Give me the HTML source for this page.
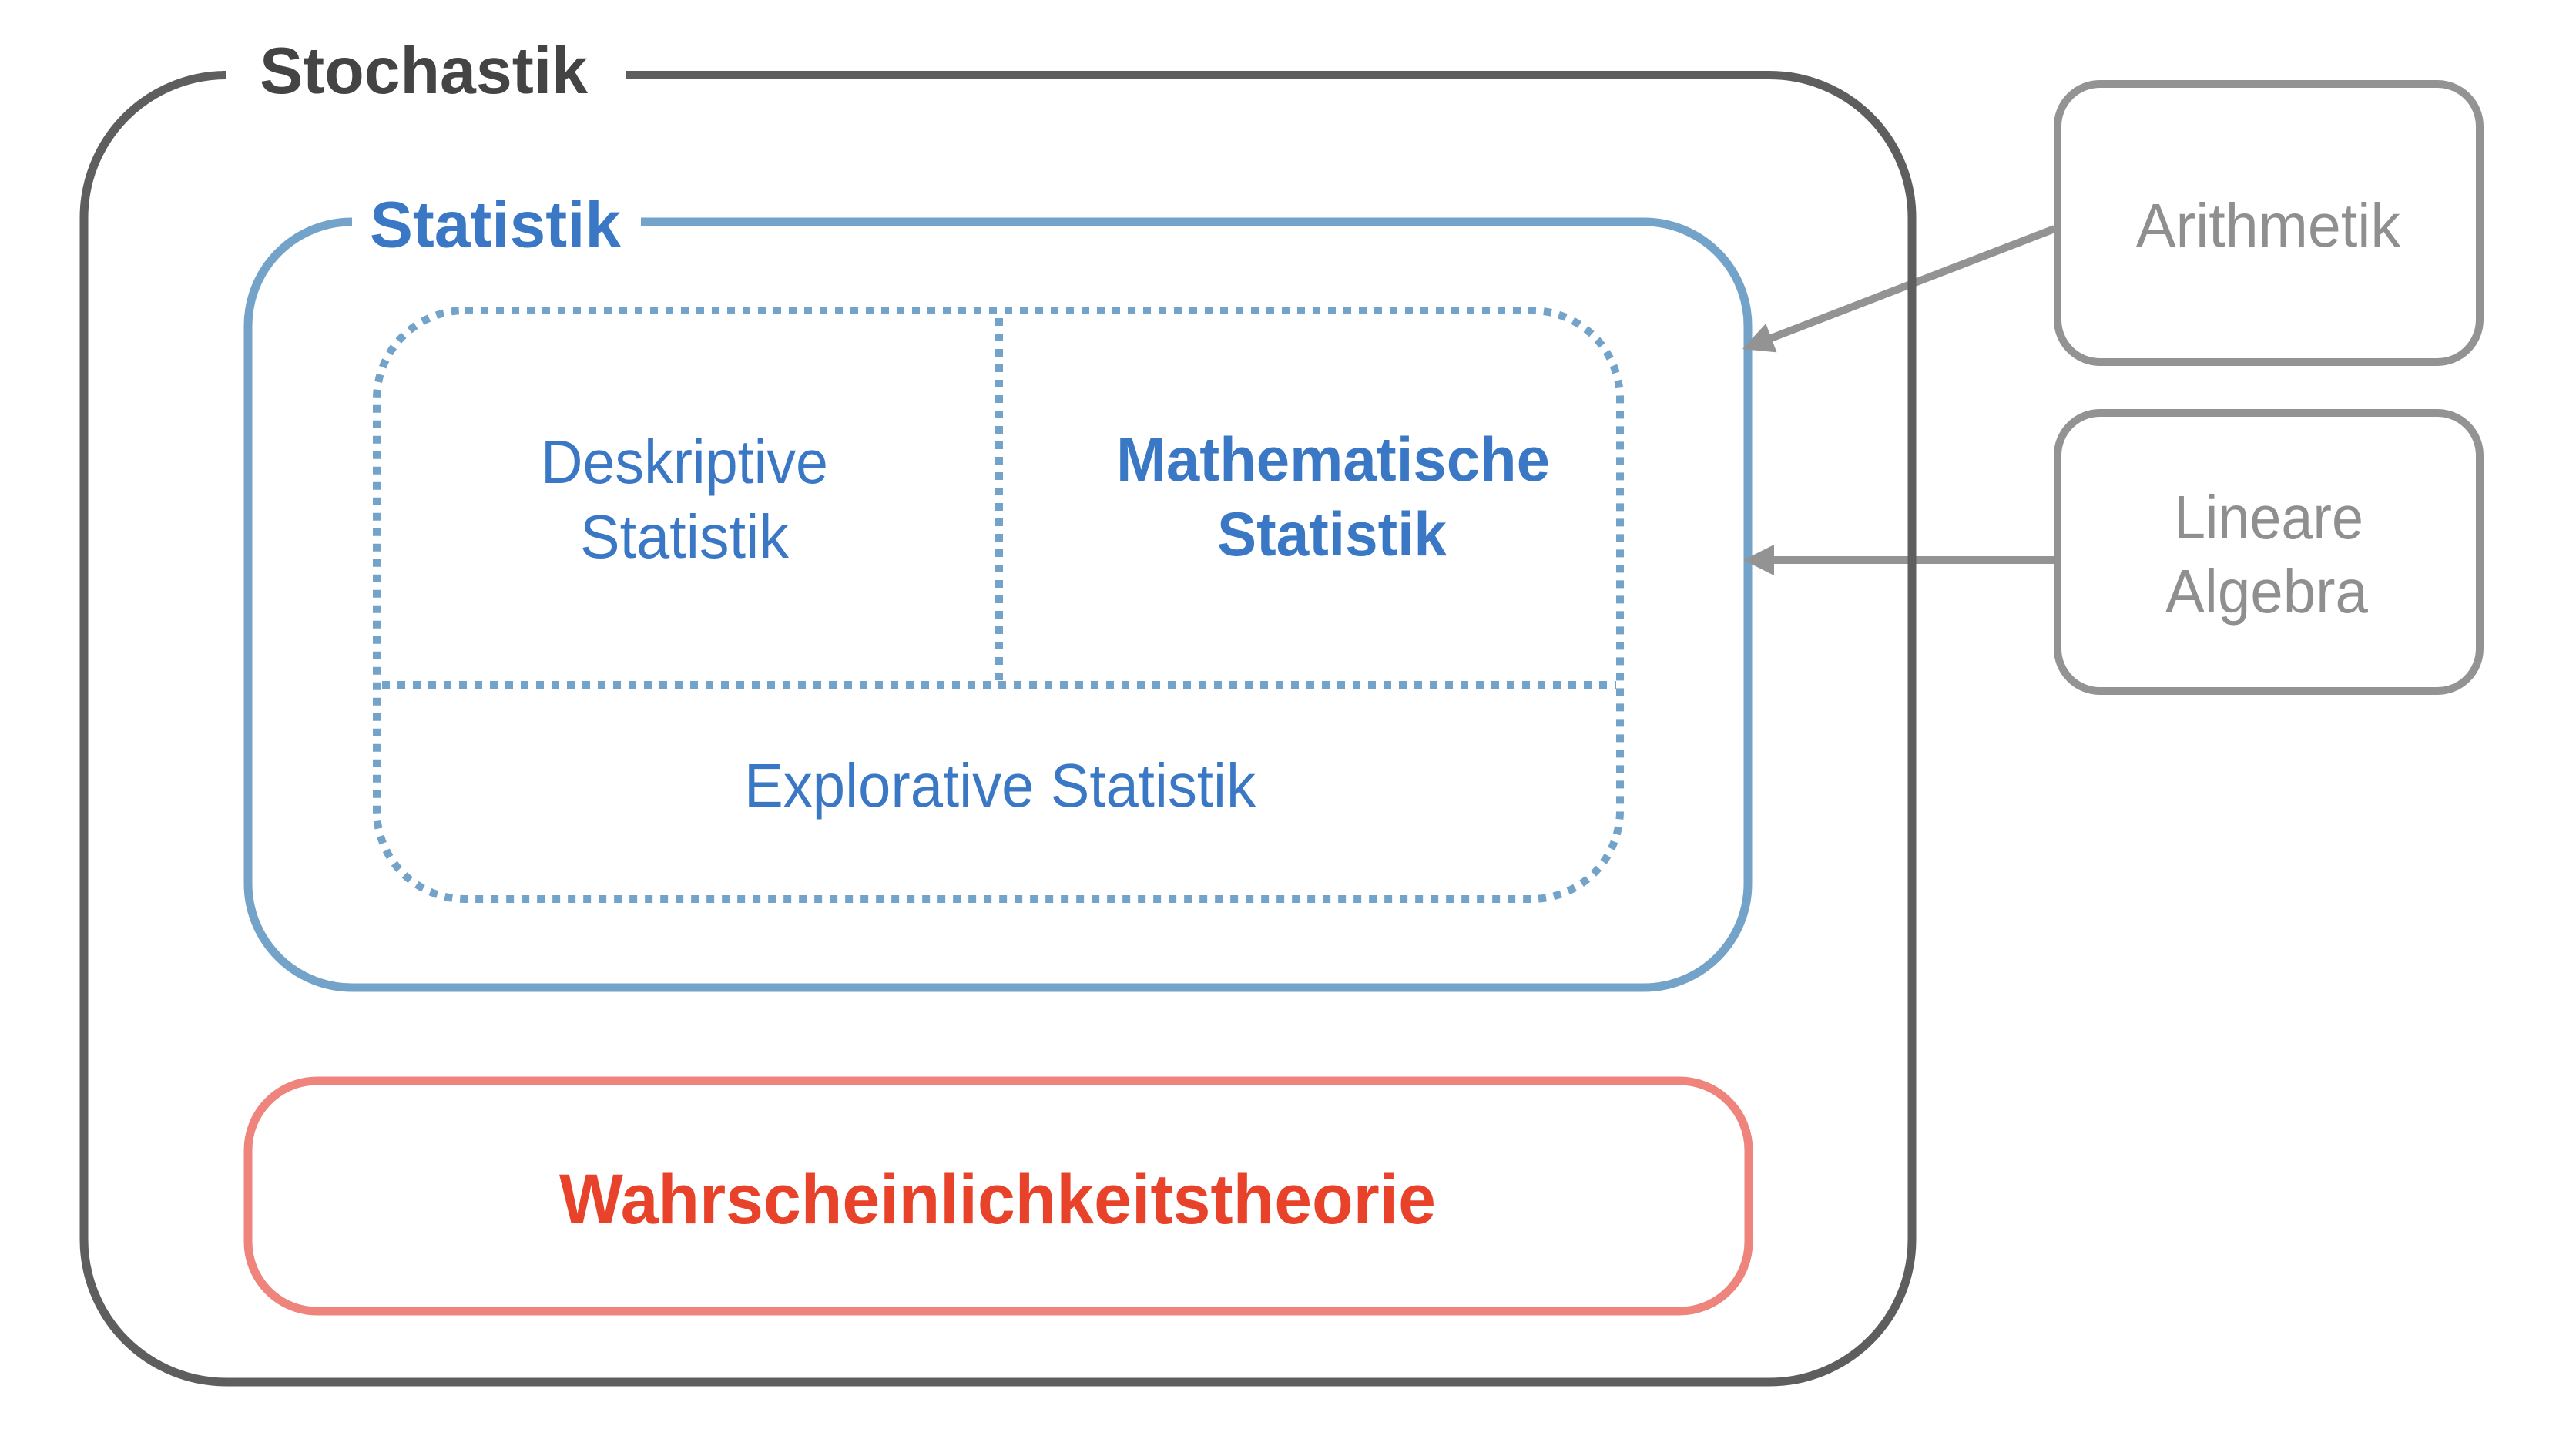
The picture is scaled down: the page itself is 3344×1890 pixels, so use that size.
<!DOCTYPE html>
<html>
<head>
<meta charset="utf-8">
<style>
  html, body { margin: 0; padding: 0; background: #ffffff; }
  body { width: 3344px; height: 1890px; overflow: hidden; }
  svg { display: block; }
  text { font-family: "Liberation Sans", "DejaVu Sans", sans-serif; }
</style>
</head>
<body>
<svg width="3344" height="1890" viewBox="0 0 3344 1890" xmlns="http://www.w3.org/2000/svg">
  <rect x="0" y="0" width="3344" height="1890" fill="#ffffff"/>

  <!-- Outer Stochastik box (with gap for title) -->
  <path d="M812,97.5 H2297 A185,185 0 0 1 2482,282.5 V1609 A185,185 0 0 1 2297,1794 H294 A185,185 0 0 1 109,1609 V282.5 A185,185 0 0 1 294,97.5 H288"
        fill="none" stroke="#5e5e5e" stroke-width="11" stroke-linecap="butt"/>
  <text x="337" y="121" font-size="85" font-weight="bold" fill="#444444" textLength="426" lengthAdjust="spacingAndGlyphs">Stochastik</text>

  <!-- Statistik box (blue) with gap -->
  <path d="M832,288 H2134 A135,135 0 0 1 2269,423 V1147 A135,135 0 0 1 2134,1282 H457 A135,135 0 0 1 322,1147 V423 A135,135 0 0 1 457,288 H454"
        fill="none" stroke="#74a3c9" stroke-width="11" stroke-linecap="butt"/>
  <text x="480" y="320.5" font-size="84" font-weight="bold" fill="#3a78c5" textLength="326" lengthAdjust="spacingAndGlyphs">Statistik</text>

  <!-- Dotted inner box -->
  <rect x="489" y="403" width="1614" height="764" rx="115" ry="115"
        fill="none" stroke="#74a3c9" stroke-width="10" stroke-dasharray="10 10"/>
  <line x1="1297" y1="413" x2="1297" y2="884" stroke="#74a3c9" stroke-width="10" stroke-dasharray="10 10"/>
  <line x1="496" y1="889" x2="2098" y2="889" stroke="#74a3c9" stroke-width="10" stroke-dasharray="10 10"/>

  <!-- Cell texts -->
  <text x="702" y="627" font-size="80" fill="#3a78c5" textLength="373" lengthAdjust="spacingAndGlyphs">Deskriptive</text>
  <text x="753" y="724" font-size="80" fill="#3a78c5" textLength="271" lengthAdjust="spacingAndGlyphs">Statistik</text>

  <text x="1449" y="624" font-size="81" font-weight="bold" fill="#3a78c5" textLength="563" lengthAdjust="spacingAndGlyphs">Mathematische</text>
  <text x="1580" y="721" font-size="81" font-weight="bold" fill="#3a78c5" textLength="298" lengthAdjust="spacingAndGlyphs">Statistik</text>

  <text x="966" y="1047" font-size="80" fill="#3a78c5" textLength="664" lengthAdjust="spacingAndGlyphs">Explorative Statistik</text>

  <!-- Wahrscheinlichkeitstheorie (red) -->
  <rect x="322" y="1403" width="1948" height="299" rx="90" ry="90"
        fill="none" stroke="#ef847c" stroke-width="11"/>
  <text x="726" y="1588" font-size="92" font-weight="bold" fill="#e8432a" textLength="1138" lengthAdjust="spacingAndGlyphs">Wahrscheinlichkeitstheorie</text>

  <!-- Gray boxes -->
  <rect x="2671" y="109" width="548" height="361" rx="55" ry="55"
        fill="none" stroke="#939393" stroke-width="10"/>
  <text x="2773" y="320" font-size="80" fill="#8f8f8f" textLength="343" lengthAdjust="spacingAndGlyphs">Arithmetik</text>

  <rect x="2671" y="536" width="548" height="361" rx="55" ry="55"
        fill="none" stroke="#939393" stroke-width="10"/>
  <text x="2822" y="699" font-size="80" fill="#8f8f8f" textLength="246" lengthAdjust="spacingAndGlyphs">Lineare</text>
  <text x="2811" y="795" font-size="80" fill="#8f8f8f" textLength="263" lengthAdjust="spacingAndGlyphs">Algebra</text>

  <!-- Arrows -->
  <line x1="2667" y1="297" x2="2295" y2="440.5" stroke="#939393" stroke-width="10"/>
  <polygon points="2262,453 2292.3,420 2306.5,457.4" fill="#939393"/>

  <line x1="2667" y1="727" x2="2298" y2="727" stroke="#939393" stroke-width="10"/>
  <polygon points="2263,727 2303,707 2303,747" fill="#939393"/>

  <!-- redraw outer right edge over arrows -->
  <line x1="2482" y1="282.5" x2="2482" y2="1609" stroke="#5e5e5e" stroke-width="11"/>
</svg>
</body>
</html>
